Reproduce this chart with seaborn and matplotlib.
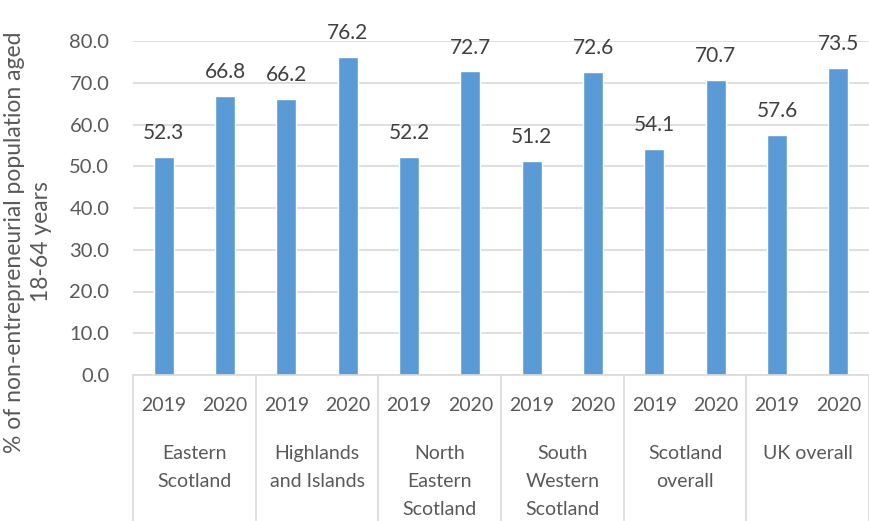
import matplotlib
matplotlib.use("Agg")
import matplotlib.pyplot as plt
import matplotlib.transforms as mtransforms
import pandas as pd
import seaborn as sns

# Regions and survey years
regions = [
    "Eastern\nScotland",
    "Highlands\nand Islands",
    "North\nEastern\nScotland",
    "South\nWestern\nScotland",
    "Scotland\noverall",
    "UK overall",
]
years = ["2019", "2020"]
values_2019 = [52.3, 66.2, 52.2, 51.2, 54.1, 57.6]
values_2020 = [66.8, 76.2, 72.7, 72.6, 70.7, 73.5]

y_ticks = [0, 10, 20, 30, 40, 50, 60, 70, 80]
y_label = "% of non-entrepreneurial population aged\n18-64 years"

BAR_COLOR = "#5B9BD5"
TEXT_COLOR = "#595959"
LABEL_COLOR = "#404040"
GRID_COLOR = "#D9D9D9"

rows = []
for i, region in enumerate(regions):
    for year, vals in zip(years, (values_2019, values_2020)):
        rows.append({"slot": f"{i}-{year}", "region": region, "year": year,
                     "value": vals[i]})
df = pd.DataFrame(rows)

sns.set_theme(style="white")
plt.rcParams["font.family"] = ["Lato", "DejaVu Sans"]

W, H = 869, 521
fig = plt.figure(figsize=(W / 100, H / 100), dpi=100)
ax = fig.add_axes([133 / W, 1 - 375 / H, (869 - 133) / W, (375 - 41) / H])

sns.barplot(data=df, x="slot", y="value", order=list(df["slot"]),
            color=BAR_COLOR, width=0.33, saturation=1, ax=ax)

ax.set_ylim(0, 80)
ax.set_xlim(-0.5, len(df) - 0.5)
ax.set_yticks(y_ticks)
ax.set_yticklabels([f"{t:.1f}" for t in y_ticks], color=TEXT_COLOR, fontsize=14.5)
ax.tick_params(axis="y", length=0, pad=17)
ax.set_xticks(range(len(df)))
ax.set_xticklabels(df["year"], color=TEXT_COLOR, fontsize=14)
ax.tick_params(axis="x", length=0, pad=16)
ax.set_xlabel("")
ax.set_ylabel("")
ax.grid(axis="y", color=GRID_COLOR, linewidth=1.2)
ax.set_axisbelow(True)
for side in ("left", "right", "top"):
    ax.spines[side].set_visible(False)
ax.spines["bottom"].set_color(GRID_COLOR)
ax.spines["bottom"].set_linewidth(1.2)

# Value labels above each bar
for patch, val in zip(ax.patches, df["value"]):
    ax.annotate(f"{val:.1f}", (patch.get_x() + patch.get_width() / 2, val),
                xytext=(0, 10), textcoords="offset points", ha="center",
                va="bottom", fontsize=15, color=LABEL_COLOR)

# Region labels and separators under the year labels
trans = mtransforms.blended_transform_factory(ax.transData, ax.transAxes)
for i, region in enumerate(regions):
    ax.text(2 * i + 0.5, -0.21, region, transform=trans, ha="center",
            va="top", fontsize=14, color=TEXT_COLOR, linespacing=1.78)
for k in range(len(regions) + 1):
    x = 2 * k - 0.5
    ax.plot([x, x], [0, -0.45], transform=trans, color=GRID_COLOR,
            linewidth=1.2, clip_on=False)

fig.text(28 / W, 1 - 242 / H, y_label, rotation=90, ha="center", va="center",
         fontsize=16.5, color=TEXT_COLOR, linespacing=1.3)

fig.savefig("out.png", dpi=100, facecolor="white")
